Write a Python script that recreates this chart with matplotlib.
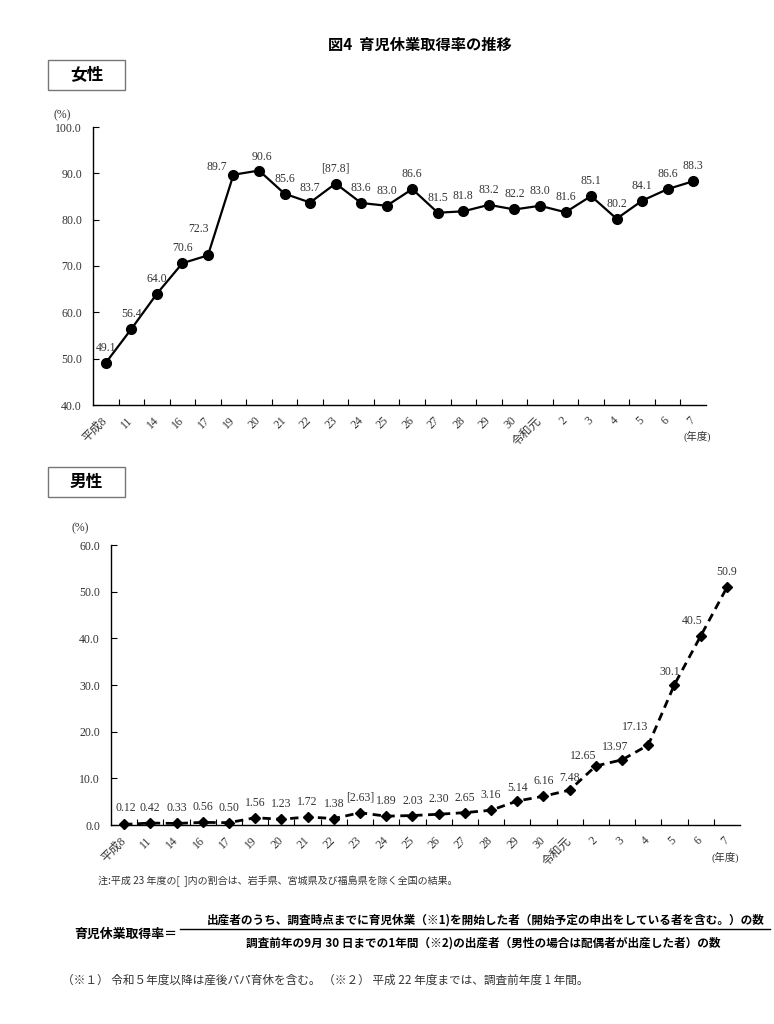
import matplotlib
matplotlib.use("Agg")
import matplotlib.pyplot as plt
from matplotlib.patches import Rectangle
from matplotlib.lines import Line2D

# -------------------------------
# Data
# -------------------------------
years = ["平成8", "11", "14", "16", "17", "19", "20", "21", "22", "23", "24", "25",
         "26", "27", "28", "29", "30", "令和元", "2", "3", "4", "5", "6", "7"]

female = [49.1, 56.4, 64.0, 70.6, 72.3, 89.7, 90.6, 85.6, 83.7, 87.8, 83.6, 83.0,
          86.6, 81.5, 81.8, 83.2, 82.2, 83.0, 81.6, 85.1, 80.2, 84.1, 86.6, 88.3]
female_labels = ["49.1", "56.4", "64.0", "70.6", "72.3", "89.7", "90.6", "85.6", "83.7",
                 "[87.8]", "83.6", "83.0", "86.6", "81.5", "81.8", "83.2", "82.2", "83.0",
                 "81.6", "85.1", "80.2", "84.1", "86.6", "88.3"]

male = [0.12, 0.42, 0.33, 0.56, 0.50, 1.56, 1.23, 1.72, 1.38, 2.63, 1.89, 2.03,
        2.30, 2.65, 3.16, 5.14, 6.16, 7.48, 12.65, 13.97, 17.13, 30.1, 40.5, 50.9]
male_labels = ["0.12", "0.42", "0.33", "0.56", "0.50", "1.56", "1.23", "1.72", "1.38",
               "[2.63]", "1.89", "2.03", "2.30", "2.65", "3.16", "5.14", "6.16", "7.48",
               "12.65", "13.97", "17.13", "30.1", "40.5", "50.9"]

# label offsets in pixels (default is straight above the point)
female_offsets = {4: (-9, 26), 5: (-17, 8), 6: (3, 14)}
male_offsets = {0: (2, 16), 15: (0, 13), 17: (0, 12), 18: (-13, 10), 19: (-7, 13),
                20: (-13, 18), 21: (-5, 13), 22: (-8, 15)}

NUM_FONT = ["Liberation Serif", "Noto Sans CJK JP"]
JP_FONT = ["Noto Sans CJK JP", "DejaVu Sans"]
TXT = "#333333"
NUM_SIZE = 8.5

W, H = 774, 1024
fig = plt.figure(figsize=(W / 100, H / 100), dpi=100)


def px_axes(l, t, r, b):
    return fig.add_axes([l / W, 1 - b / H, (r - l) / W, (b - t) / H])


def fx(x):
    return x / W


def fy(y):
    return 1 - y / H


def style_axes(ax, ymin, ymax):
    n = len(years)
    ax.set_xlim(-0.5, n - 0.5)
    ax.set_ylim(ymin, ymax)
    for s in ["top", "right"]:
        ax.spines[s].set_visible(False)
    for s in ["left", "bottom"]:
        ax.spines[s].set_linewidth(1.0)
    ax.set_xticks(range(n))
    ax.set_xticklabels(years, rotation=45, ha="right", va="center",
                       rotation_mode="anchor", family=NUM_FONT, fontsize=8.5, color=TXT)
    ax.set_xticks([i + 0.5 for i in range(n - 1)], minor=True)
    ax.tick_params(axis="x", which="major", length=0, pad=10)
    ax.tick_params(axis="x", which="minor", direction="in", length=4, width=0.8)
    ax.set_yticks(range(ymin, ymax + 1, 10))
    ax.set_yticklabels([f"{v:.1f}" for v in range(ymin, ymax + 1, 10)],
                       family=NUM_FONT, fontsize=NUM_SIZE, color=TXT)
    ax.tick_params(axis="y", direction="in", length=4, width=0.8, pad=8)


def box_title(x, y, text):
    fig.patches.append(Rectangle((fx(x), fy(y + 30)), 77 / W, 30 / H,
                                 transform=fig.transFigure, facecolor="white",
                                 edgecolor="#777777", linewidth=1.0))
    fig.text(fx(x + 38.5), fy(y + 15), text, ha="center", va="center",
             family=JP_FONT, fontsize=12, fontweight="bold")


# -------------------------------
# Title
# -------------------------------
fig.text(fx(420), fy(45), "図4  育児休業取得率の推移", ha="center", va="center",
         family=JP_FONT, fontsize=11, fontweight="bold")

# -------------------------------
# Female
# -------------------------------
box_title(48, 60, "女性")
ax1 = px_axes(93, 127, 706, 405)
style_axes(ax1, 40, 100)
ax1.plot(range(len(female)), female, color="black", linewidth=1.6,
         marker="o", markersize=7, clip_on=False)
for i, (v, lab) in enumerate(zip(female, female_labels)):
    dx, dy = female_offsets.get(i, (0, 15))
    ax1.annotate(lab, (i, v), xytext=(dx, dy), textcoords="offset pixels",
                 ha="center", va="center", family=NUM_FONT, fontsize=NUM_SIZE, color=TXT)
fig.text(fx(62), fy(115), "(%)", ha="center", va="center", family=NUM_FONT,
         fontsize=NUM_SIZE, color=TXT)
fig.text(fx(697), fy(436), "(年度)", ha="center", va="center", family=NUM_FONT,
         fontsize=7.5, color=TXT)

# -------------------------------
# Male
# -------------------------------
box_title(48, 467, "男性")
ax2 = px_axes(111, 545, 740, 825)
style_axes(ax2, 0, 60)
ax2.plot(range(len(male)), male, color="black", linewidth=2.0, dashes=(3, 2),
         marker="D", markersize=5.5, clip_on=False)
for i, (v, lab) in enumerate(zip(male, male_labels)):
    dx, dy = male_offsets.get(i, (0, 15))
    ax2.annotate(lab, (i, v), xytext=(dx, dy), textcoords="offset pixels",
                 ha="center", va="center", family=NUM_FONT, fontsize=NUM_SIZE, color=TXT)
fig.text(fx(80), fy(528), "(%)", ha="center", va="center", family=NUM_FONT,
         fontsize=NUM_SIZE, color=TXT)
fig.text(fx(725), fy(857), "(年度)", ha="center", va="center", family=NUM_FONT,
         fontsize=7.5, color=TXT)

# -------------------------------
# Notes and formula
# -------------------------------
fig.text(fx(98), fy(881), "注:平成 23 年度の[  ]内の割合は、岩手県、宮城県及び福島県を除く全国の結果。",
         ha="left", va="center", family=JP_FONT, fontsize=7.2, color=TXT)

fig.text(fx(74), fy(934), "育児休業取得率＝", ha="left", va="center",
         family=JP_FONT, fontsize=9.3, fontweight="bold")
fig.text(fx(486), fy(920),
         "出産者のうち、調査時点までに育児休業（※1)を開始した者（開始予定の申出をしている者を含む。）の数",
         ha="center", va="center", family=JP_FONT, fontsize=8.4, fontweight="bold")
fig.lines.append(Line2D([fx(180), fx(770)], [fy(929), fy(929)],
                        transform=fig.transFigure, color="black", linewidth=1.0))
fig.text(fx(483), fy(943),
         "調査前年の9月 30 日までの1年間（※2)の出産者（男性の場合は配偶者が出産した者）の数",
         ha="center", va="center", family=JP_FONT, fontsize=8.4, fontweight="bold")

fig.text(fx(62), fy(980),
         "（※１） 令和５年度以降は産後パパ育休を含む。 （※２） 平成 22 年度までは、調査前年度 1 年間。",
         ha="left", va="center", family=JP_FONT, fontsize=8.4, color=TXT)

fig.savefig("out.png", dpi=100, facecolor="white")
